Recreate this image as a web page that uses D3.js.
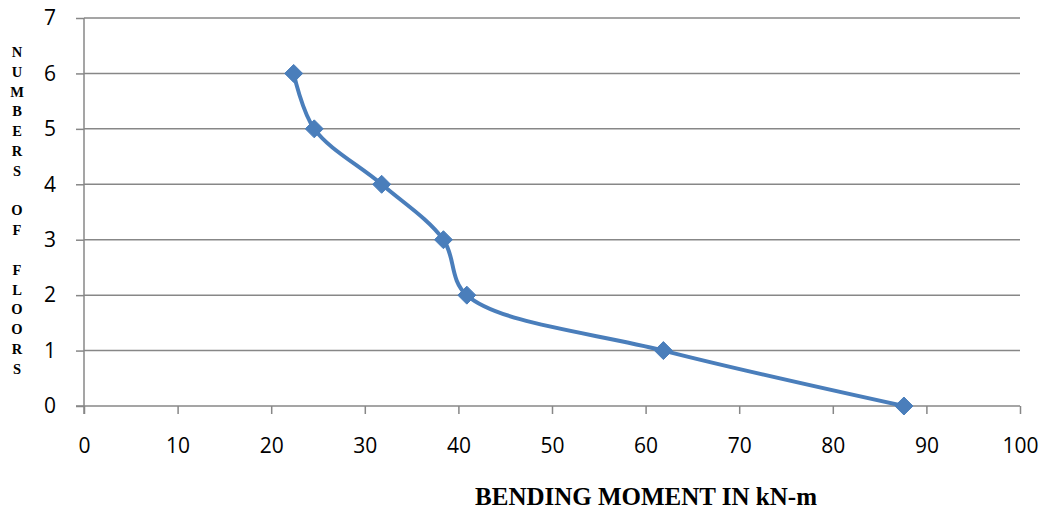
<!DOCTYPE html>
<html>
<head>
<meta charset="utf-8">
<script src="https://cdn.jsdelivr.net/npm/d3@7"></script>
<style>
body { margin: 0; background: #fff; }
.tickText { font-family: "Open Sans", "Liberation Sans", sans-serif; font-size: 21px; fill: #000; }
.axisTitle { font-family: "Liberation Serif", "DejaVu Serif", serif; font-weight: bold; fill: #000; }
</style>
</head>
<body>
<script>
// values
const moments = [87.6, 61.9, 40.9, 38.4, 31.8, 24.6, 22.4];
const floors = [0, 1, 2, 3, 4, 5, 6];
const xTicks = [0, 10, 20, 30, 40, 50, 60, 70, 80, 90, 100];
const yTicks = [0, 1, 2, 3, 4, 5, 6, 7];
const yTitleLetters = ["N","U","M","B","E","R","S","","O","F","","F","L","O","O","R","S"];
const xTitle = "BENDING MOMENT IN kN-m";

const svgWidth = 1045;
const svgHeight = 513;
const margin = { left: 84, top: 18, right: 25, bottom: 107 };
const chartWidth = svgWidth - margin.left - margin.right;
const chartHeight = svgHeight - margin.top - margin.bottom;

const svg = d3.select("body")
    .append("svg")
    .attr("width", svgWidth)
    .attr("height", svgHeight);

const chart = svg.append("g")
    .attr("transform", `translate(${margin.left},${margin.top})`);

const xScale = d3.scaleLinear().domain([0, 100]).range([0, chartWidth]);
const yScale = d3.scaleLinear().domain([0, 7]).range([chartHeight, 0]);

const axisColor = "#878787";

// gridlines
chart.selectAll(".grid")
    .data(yTicks.filter(t => t > 0))
    .enter()
    .append("line")
    .attr("x1", 0)
    .attr("x2", chartWidth)
    .attr("y1", d => yScale(d))
    .attr("y2", d => yScale(d))
    .attr("stroke", axisColor)
    .attr("stroke-width", 1.5);

// x axis
const xAxis = chart.append("g")
    .attr("transform", `translate(0,${chartHeight})`)
    .call(d3.axisBottom(xScale).tickValues(xTicks).tickFormat(d3.format("d")).tickSize(8).tickPadding(24));
xAxis.select(".domain").attr("stroke", axisColor).attr("stroke-width", 1.5)
    .attr("d", `M-8,0H${chartWidth}`);
xAxis.selectAll(".tick line").attr("stroke", axisColor).attr("stroke-width", 1.5);
xAxis.selectAll(".tick text").attr("class", "tickText");

// y axis
const yAxis = chart.append("g")
    .call(d3.axisLeft(yScale).tickValues(yTicks).tickFormat(d3.format("d")).tickSize(8).tickPadding(20));
yAxis.select(".domain").attr("stroke", axisColor).attr("stroke-width", 1.5)
    .attr("d", `M0,${chartHeight + 8}V0`);
yAxis.selectAll(".tick line").attr("stroke", axisColor).attr("stroke-width", 1.5);
yAxis.selectAll(".tick text").attr("class", "tickText");

// series line
const points = moments.map((m, i) => [m, floors[i]]);
const line = d3.line()
    .x(d => xScale(d[0]))
    .y(d => yScale(d[1]))
    .curve(d3.curveCatmullRom.alpha(0.5));

chart.append("path")
    .datum(points)
    .attr("d", line)
    .attr("fill", "none")
    .attr("stroke", "#4A7EBB")
    .attr("stroke-width", 4);

// diamond markers
chart.selectAll(".marker")
    .data(points)
    .enter()
    .append("path")
    .attr("transform", d => `translate(${xScale(d[0])},${yScale(d[1])})`)
    .attr("d", "M0,-9L9,0L0,9L-9,0Z")
    .attr("fill", "#4A7EBB")
    .attr("stroke", "#4A7EBB")
    .attr("stroke-width", 1);

// y title, stacked letters
svg.append("g")
    .selectAll("text")
    .data(yTitleLetters)
    .enter()
    .append("text")
    .attr("class", "axisTitle")
    .attr("x", 17)
    .attr("y", (d, i) => 57 + i * 19.8)
    .attr("text-anchor", "middle")
    .style("font-size", "14.5px")
    .text(d => d);

// x title
svg.append("text")
    .attr("class", "axisTitle")
    .attr("x", 646)
    .attr("y", 505)
    .attr("text-anchor", "middle")
    .style("font-size", "25px")
    .text(xTitle);
</script>
</body>
</html>
